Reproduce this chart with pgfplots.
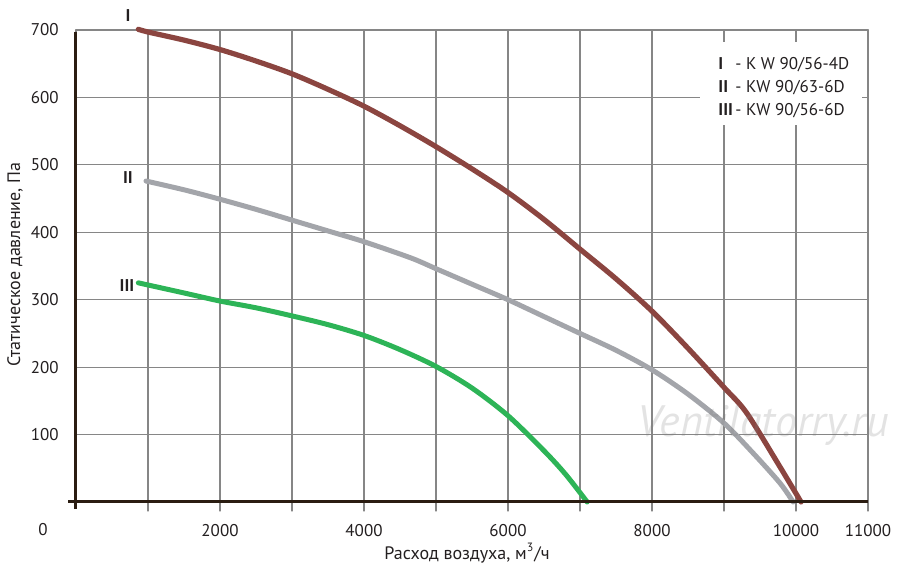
\documentclass[border=0pt]{standalone}
\usepackage{pgfplots}
\pgfplotsset{compat=1.18}
\usepackage{fontspec}
\setmainfont{PT Sans}
\definecolor{cI}{HTML}{8B4540}
\definecolor{cII}{HTML}{A3A5AA}
\definecolor{cIII}{HTML}{2DB457}
\definecolor{gridc}{HTML}{868686}
\definecolor{txt}{HTML}{231F20}
\definecolor{axc}{HTML}{2B1D12}
\pgfplotstableread{
x y
866 701
1000 697
1500 685
2000 671
2500 654
3000 635
3500 612
4000 587
4500 558
5000 527
5500 494
6000 459
6500 419
7000 375
7500 331
8000 283
8500 228
9000 170
9315 132
9778 52
10070 0
}\curveI
\pgfplotstableread{
x y
972 476
1500 463
2000 449
2500 434
3000 418
3500 402
4000 386
4650 362
5000 346
5500 323
6000 300
6500 275
7000 250
7500 225
8000 196
8500 160
9000 117
9400 73
9778 28
9960 0
}\curveII
\pgfplotstableread{
x y
866 325
1500 310
2000 298
2500 288
3000 276
3500 263
4000 247
4500 226
5000 201
5500 169
6000 128
6500 76
6800 41
7100 0
}\curveIII
\begin{document}
\begin{tikzpicture}
\useasboundingbox (0,0) rectangle (450pt,286pt);
\begin{axis}[
  at={(38pt,35pt)}, anchor=south west,
  scale only axis, width=396pt, height=236pt,
  xmin=0, xmax=11000, ymin=0, ymax=700,
  clip=false,
  axis line style={draw=gridc, line width=0.6pt},
  xtick={1000,2000,...,11000},
  xticklabels={,2000,,4000,,6000,,8000,,10000,11000},
  ytick={100,200,...,700},
  grid=major,
  major grid style={draw=gridc, line width=0.6pt},
  xtick pos=bottom, ytick pos=left,
  tick align=outside,
  major tick length=4.5pt,
  xtick style={draw=gridc, line width=0.6pt},
  ytick style={draw=none},
  ticklabel style={font=\fontsize{8.5}{10}\selectfont, text=txt},
  xticklabel style={anchor=base, yshift=-13pt},
  yticklabel style={anchor=east, inner sep=0pt, xshift=-4pt},
  /pgf/number format/assume math mode=true,
  scaled x ticks=false,
  line cap=round, line join=round,
]
\addplot[cI, line width=2.6pt, smooth, tension=0.5] table {\curveI};
\addplot[cII, line width=2.5pt, smooth, tension=0.5] table {\curveII};
\addplot[cIII, line width=2.5pt, smooth, tension=0.5] table {\curveIII};
% axis lines
\draw[axc, line width=1.5pt, line cap=butt] (axis cs:-111,0) -- (axis cs:11000,0);
\draw[axc, line width=1.5pt, line cap=butt] (axis cs:0,-10.4) -- (axis cs:0,697);
% legend box
\fill[white] (axis cs:8667,559) rectangle (axis cs:10917,682.5);
\node[anchor=west, align=left, font=\fontsize{8.5}{11.5}\selectfont, text=txt, inner sep=0pt]
  at (axis cs:8917,614) {\makebox[8.5pt][l]{\bfseries I}- K W 90/56-4D\\
  \makebox[8.5pt][l]{\bfseries II}- KW 90/63-6D\\
  \makebox[8.5pt][l]{\bfseries III}- KW 90/56-6D};
% curve labels
\node[font=\fontsize{8.5}{10}\selectfont\bfseries, text=txt] at (axis cs:722,721) {I};
\node[font=\fontsize{8.5}{10}\selectfont\bfseries, text=txt] at (axis cs:722,481) {II};
\node[font=\fontsize{8.5}{10}\selectfont\bfseries, text=txt] at (axis cs:708,320.5) {III};
% zero label
\node[font=\fontsize{8.5}{10}\selectfont, text=txt] at (axis cs:-458,-41.5) {0};
% axis labels
\node[font=\fontsize{9}{10}\selectfont, text=txt] at (axis cs:5431,-75.7) {Расход воздуха, м\textsuperscript{3}/ч};
\node[font=\fontsize{9}{10}\selectfont, text=txt, rotate=90] at (axis cs:-847,352) {Статическое давление, Па};
% watermark
\node[font=\fontsize{22}{24}\selectfont\itshape, text=gray, text opacity=0.22] at (axis cs:9542,114) {Ventilatorry.ru};
\end{axis}
\end{tikzpicture}
\end{document}
